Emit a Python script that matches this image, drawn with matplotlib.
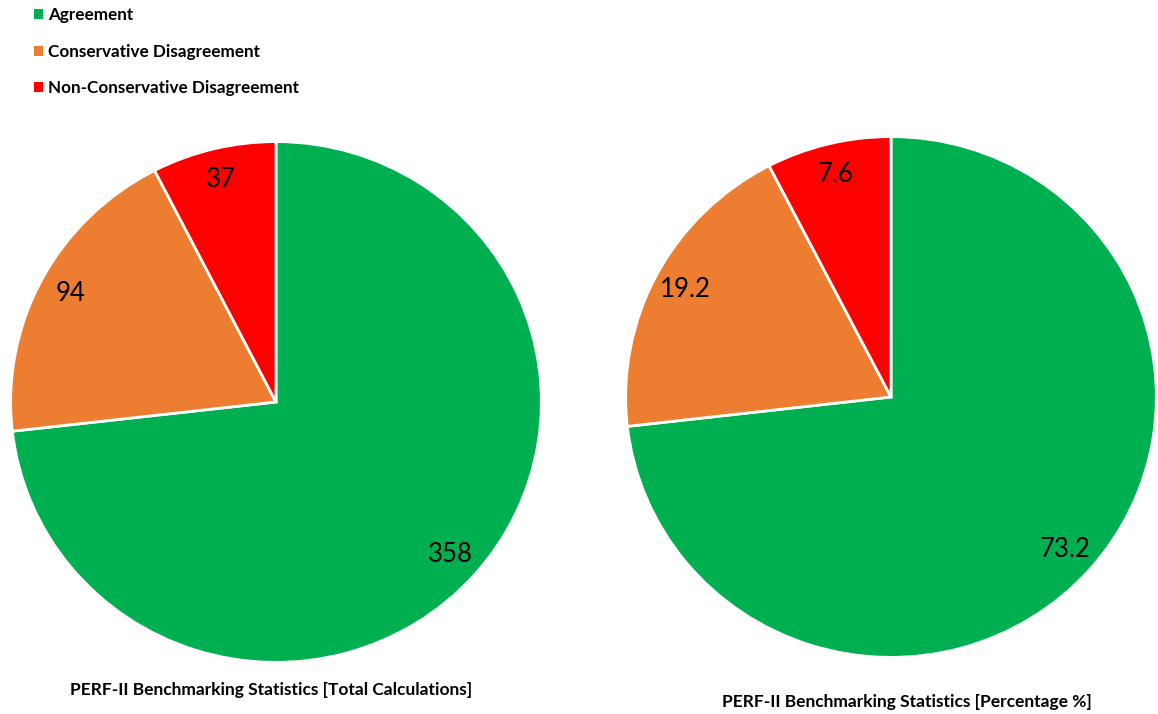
import matplotlib.pyplot as plt
from matplotlib.patches import Patch

# Dados do benchmarking PERF-II
categorias = ['Agreement', 'Conservative Disagreement', 'Non-Conservative Disagreement']
cores = ['#00B050', '#ED7D31', '#FF0000']
totais = [358, 94, 37]
percentuais = [73.2, 19.2, 7.6]
rotulos_totais = ['358', '94', '37']
rotulos_percentuais = ['73.2', '19.2', '7.6']
titulos = ['PERF-II Benchmarking Statistics [Total Calculations]',
           'PERF-II Benchmarking Statistics [Percentage %]']

plt.rcParams['font.family'] = ['Lato', 'DejaVu Sans']

W, H = 1158, 714
fig = plt.figure(figsize=(W / 100, H / 100), dpi=100)


def eixo_px(x0, y0, w, h):
    # cria eixo a partir de coordenadas em pixels (origem no topo)
    return fig.add_axes([x0 / W, 1 - (y0 + h) / H, w / W, h / H])


def desenhar_pizza(ax, valores, rotulos):
    wedges, textos = ax.pie(valores, colors=cores, startangle=90, counterclock=False,
                            labels=rotulos, labeldistance=0.88,
                            wedgeprops=dict(edgecolor='white', linewidth=2))
    for t in textos:
        t.set_fontsize(18.5)
        t.set_color('black')
        t.set_ha('center')
        t.set_va('center')
    # contorno externo suave
    circ = plt.Circle((0, 0), 1.0, fill=False, edgecolor='#d0d0d0', linewidth=1.2, zorder=0)
    ax.add_patch(circ)
    ax.set_xlim(-1.01, 1.01)
    ax.set_ylim(-1.01, 1.01)
    ax.set_aspect('auto')
    ax.axis('off')


ax1 = eixo_px(276 - 268, 402 - 263, 536, 526)
desenhar_pizza(ax1, totais, rotulos_totais)

ax2 = eixo_px(891 - 268, 397 - 263, 536, 526)
desenhar_pizza(ax2, percentuais, rotulos_percentuais)

# Títulos abaixo de cada pizza
fig.text(271 / W, 1 - 690 / H, titulos[0], ha='center', va='center',
         fontsize=12.5, fontweight='bold')
fig.text(907 / W, 1 - 702 / H, titulos[1], ha='center', va='center',
         fontsize=12.5, fontweight='bold')

# Legenda no canto superior esquerdo
handles = [Patch(facecolor=c, edgecolor='none') for c in cores]
fig.legend(handles, categorias, loc='upper left', bbox_to_anchor=(19 / W, 1 + 8 / H),
           frameon=False, prop={'weight': 'bold', 'size': 12.3},
           handlelength=0.5, handleheight=0.5, handletextpad=0.3, labelspacing=1.2)

fig.savefig('out.png', dpi=100)
